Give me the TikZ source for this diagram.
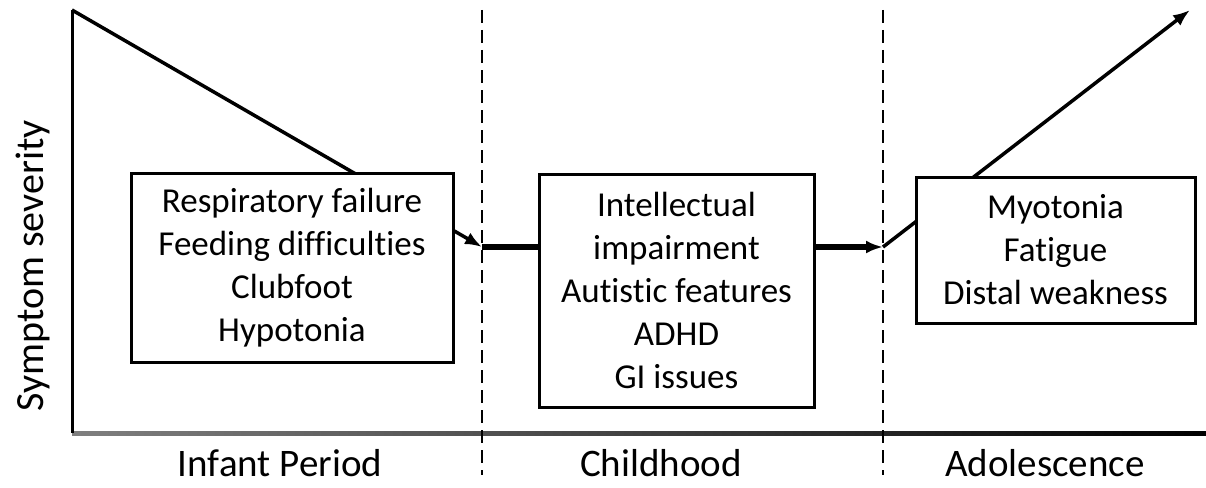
\documentclass[tikz,border=0pt]{standalone}
\usepackage{fontspec}
\setmainfont{Carlito}[Ligatures=NoCommon]
\usepackage{tikz}
\usetikzlibrary{positioning,arrows.meta,backgrounds}

\begin{document}
\begin{tikzpicture}[x=1pt,y=-1pt,
            font=\fontsize{35}{43}\selectfont,
            stagebox/.style={draw, line width=3pt, fill=white, align=center, inner sep=0pt},
            trend/.style={line width=3.5pt},
            plateau/.style={line width=5.5pt},
            tip/.style={-{Latex[length=17pt,width=13pt]}},
            period/.style={font=\fontsize{39}{46}\selectfont, anchor=base, inner sep=0pt},
            divider/.style={line width=2pt, dash pattern=on 13pt off 7pt}]

    \useasboundingbox (0,0) rectangle (1206,487);

    % symptom boxes
    \node[stagebox, minimum width=322pt, minimum height=189pt] (infant) at (292,267.5)
        {Respiratory failure\\Feeding difficulties\\Clubfoot\\Hypotonia};
    \node[stagebox, minimum width=275pt, minimum height=233pt] (child) at (676.5,290.5)
        {Intellectual\\impairment\\Autistic features\\ADHD\\GI issues};
    \node[stagebox, minimum width=279pt, minimum height=146pt] (adol) at (1055.5,250)
        {Myotonia\\Fatigue\\Distal weakness};

    % axis labels
    \node[rotate=90, font=\fontsize{40}{48}\selectfont] (severity) at (33,266) {Symptom severity};
    \node[period] (infantlbl) at (280,476) {Infant Period};
    \node[period] (childlbl) at (661,476) {Childhood};
    \node[period] (adollbl) at (1045,476) {Adolescence};

    \coordinate (origin) at (72,433);
    \coordinate (top) at (72,10);
    \coordinate (dip1) at (482,247);
    \coordinate (dip2) at (883,247);
    \coordinate (peak) at (1190,10);

    \begin{scope}[on background layer]
        % axes
        \shade[left color=black!50, right color=black] (72,431) rectangle (1206,435.5);
        \draw[line width=3pt] (top) -- (origin);
        % period dividers
        \draw[divider] (482,10) -- (482,475);
        \draw[divider] (883,10) -- (883,475);
        % severity curve
        \draw[trend, tip] (top) -- (dip1);
        \draw[plateau] (dip1) -- (child.west |- dip1);
        \draw[plateau, tip] (child.east |- dip2) -- (dip2);
        \draw[trend, tip] (dip2) -- (peak);
    \end{scope}
\end{tikzpicture}
\end{document}
